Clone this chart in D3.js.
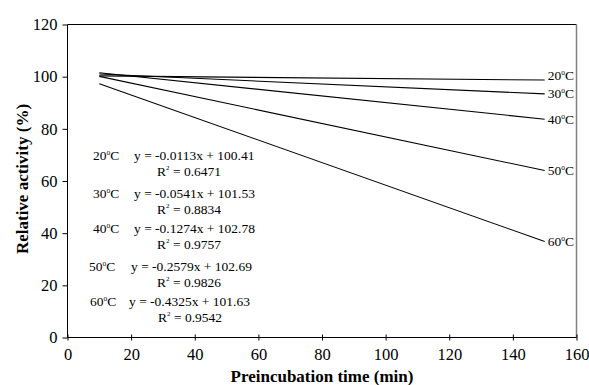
<!DOCTYPE html>
<html>
<head>
<meta charset="utf-8">
<script src="https://cdn.jsdelivr.net/npm/d3@7"></script>
<style>
  body { margin: 0; background: #fff; }
  svg text { font-family: "Liberation Serif", "Times New Roman", serif; fill: #000; }
</style>
</head>
<body>
<div id="chart"></div>
<script>
// temperatures and fitted lines
const temps = ['20', '30', '40', '50', '60'];
const timeStart = [10, 10, 10, 10, 10];
const timeEnd = [150, 150, 150, 150, 150];
const startValues = [100.3, 101.0, 101.5, 100.1, 97.3];
const endValues = [98.7, 93.4, 83.7, 64.0, 36.8];
const equations = ['y = -0.0113x + 100.41', 'y = -0.0541x + 101.53', 'y = -0.1274x + 102.78',
    'y = -0.2579x + 102.69', 'y = -0.4325x + 101.63'];
const rSquared = ['0.6471', '0.8834', '0.9757', '0.9826', '0.9542'];
const xTicks = [0, 20, 40, 60, 80, 100, 120, 140, 160];
const yTicks = [0, 20, 40, 60, 80, 100, 120];

const width = 589;
const height = 385;
const margin = { top: 24.5, right: 12.5, bottom: 47.5, left: 67.5 };

const svg = d3.select('#chart').append('svg')
    .attr('width', width).attr('height', height);

const x = d3.scaleLinear().domain([0, 160]).range([margin.left, width - margin.right]);
const y = d3.scaleLinear().domain([0, 120]).range([height - margin.bottom, margin.top]);

// frame: top line and grey right edge
svg.append('line')
    .attr('x1', x(0)).attr('x2', x(160)).attr('y1', y(120)).attr('y2', y(120))
    .attr('stroke', '#000').attr('stroke-width', 1);
svg.append('line')
    .attr('x1', x(160)).attr('x2', x(160)).attr('y1', y(120)).attr('y2', y(0))
    .attr('stroke', '#808080').attr('stroke-width', 1.5);

// axes
const xAxis = svg.append('g')
    .attr('transform', 'translate(0,' + y(0) + ')')
    .call(d3.axisBottom(x).tickValues(xTicks).tickSize(3).tickPadding(8));
xAxis.selectAll('.tick line').attr('y1', -3);
xAxis.select('.domain').attr('d', 'M' + x(0) + ',0H' + x(160));

const yAxis = svg.append('g')
    .attr('transform', 'translate(' + x(0) + ',0)')
    .call(d3.axisLeft(y).tickValues(yTicks).tickSize(5).tickPadding(5));
yAxis.select('.domain').attr('d', 'M0,' + y(120) + 'V' + y(0));

svg.selectAll('.tick text')
    .style('font-size', '16.5px')
    .style('font-family', '"Liberation Serif", serif');
svg.selectAll('.domain, .tick line').attr('stroke', '#000');

// axis titles
svg.append('text')
    .attr('x', (x(0) + x(160)) / 2).attr('y', 382)
    .attr('text-anchor', 'middle')
    .style('font-size', '17px').style('font-weight', 'bold')
    .text('Preincubation time (min)');

svg.append('text')
    .attr('transform', 'translate(28,' + (y(60) - 2) + ') rotate(-90)')
    .attr('text-anchor', 'middle')
    .style('font-size', '17px').style('font-weight', 'bold')
    .text('Relative activity (%)');

// regression lines
const lines = temps.map((t, i) => ({
    temp: t,
    pts: [[timeStart[i], startValues[i]], [timeEnd[i], endValues[i]]]
}));

const line = d3.line().x((d) => x(d[0])).y((d) => y(d[1]));

svg.append('g').selectAll('path')
    .data(lines)
    .enter()
    .append('path')
    .attr('d', (d) => line(d.pts))
    .attr('fill', 'none')
    .attr('stroke', '#000')
    .attr('stroke-width', 1.1);

// small raised "o" used as the degree sign in the source
function degLabel(sel, t) {
    sel.append('tspan').text(t);
    sel.append('tspan').attr('dy', -5).style('font-size', '7.5px').text('o');
    sel.append('tspan').attr('dy', 5).text('C');
}

// labels at right ends
const labelShift = [-5, 0, 0, 0, 0];
svg.append('g').selectAll('text')
    .data(lines)
    .enter()
    .append('text')
    .attr('x', (d) => x(d.pts[1][0]) + 3)
    .attr('y', (d, i) => y(d.pts[1][1]) + labelShift[i] + 4.5)
    .style('font-size', '13.5px')
    .each(function (d) { degLabel(d3.select(this), d.temp); });

// equations block
const rowTemp = [160, 198, 233, 271, 306];
const tempX = [93, 93, 93, 89, 90];
const eqX = [134, 134, 134, 131, 129];
const r2X = [157, 157, 157, 157, 158];
const block = svg.append('g').style('font-size', '13.5px');

temps.forEach((t, i) => {
    degLabel(block.append('text').attr('x', tempX[i]).attr('y', rowTemp[i]), t);
    block.append('text').attr('x', eqX[i]).attr('y', rowTemp[i]).text(equations[i]);
    const r = block.append('text').attr('x', r2X[i]).attr('y', rowTemp[i] + 16);
    r.append('tspan').text('R');
    r.append('tspan').attr('dy', -6).style('font-size', '7px').text('2');
    r.append('tspan').attr('dy', 6).text(' = ' + rSquared[i]);
});
</script>
</body>
</html>
